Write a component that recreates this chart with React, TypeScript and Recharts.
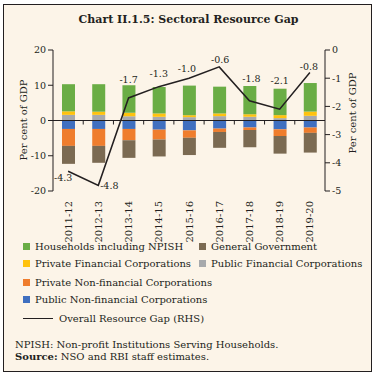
import React from 'react';
import { ComposedChart, Bar, Line, XAxis, YAxis, ReferenceLine, LabelList } from 'recharts';

const years = ['2011-12', '2012-13', '2013-14', '2014-15', '2015-16', '2016-17', '2017-18', '2018-19', '2019-20'];

// per cent of GDP
const households = [7.7, 7.8, 7.8, 7.5, 8.4, 7.6, 8.0, 7.5, 8.1];
const privateFin = [1.0, 0.9, 1.0, 0.95, 0.55, 0.76, 0.75, 0.85, 1.2];
const publicFin = [1.6, 1.6, 1.2, 1.05, 0.95, 1.24, 1.05, 0.67, 1.33];
const publicNonFin = [-2.4, -2.4, -2.4, -2.6, -2.8, -2.3, -2.0, -2.5, -2.0];
const privateNonFin = [-4.8, -4.8, -3.2, -2.8, -2.1, -0.95, -0.67, -1.9, -1.5];
const generalGovt = [-5.1, -4.8, -5.0, -4.8, -4.9, -4.5, -4.9, -5.0, -5.6];
const overallGap = [-4.3, -4.8, -1.7, -1.3, -1.0, -0.6, -1.8, -2.1, -0.8];

const leftTicks = [-20, -10, 0, 10, 20];
const rightTicks = [-5, -4, -3, -2, -1, 0];

const data = years.map((year, i) => ({
  year,
  households: households[i],
  privateFin: privateFin[i],
  publicFin: publicFin[i],
  publicNonFin: publicNonFin[i],
  privateNonFin: privateNonFin[i],
  generalGovt: generalGovt[i],
  overall: overallGap[i],
}));

const FONT = '"DejaVu Serif", serif';
const INK = '#231f20';

const colors = {
  households: '#6aad45',
  generalGovt: '#7b6a52',
  privateFin: '#ffc20e',
  publicFin: '#a7a9ac',
  privateNonFin: '#ef7d2d',
  publicNonFin: '#3f6fc0',
};

// where each data label sits relative to its point (hand placed in the original)
const labelShift: [number, number][] = [
  [-5, 10], [11, 3.5], [0, -14.5], [0, -10], [-2, -6.5], [1, -3.5], [2, -18.5], [0, -25.5], [-1, -3],
];

const XTick = (props: any) => {
  const { x, y, payload } = props;
  return (
    <g transform={`translate(${x},${y})`}>
      <text transform="rotate(-90)" textAnchor="end" dy="0.35em" dx={-2} fontSize={10} fontFamily={FONT} fill={INK}>
        {payload.value}
      </text>
    </g>
  );
};

// zero line with small ticks at category boundaries
const ZeroLine = (props: any) => {
  const { x1, y1, x2 } = props;
  const step = (x2 - x1) / years.length;
  const marks = [];
  for (let i = 1; i < years.length; i++) {
    const x = x1 + step * i;
    marks.push(<line key={i} x1={x} x2={x} y1={y1} y2={y1 + 4} stroke={INK} strokeWidth={1} />);
  }
  return (
    <g>
      <line x1={x1} x2={x2} y1={y1} y2={y1} stroke={INK} strokeWidth={1} />
      {marks}
    </g>
  );
};

const GapLabel = (props: any) => {
  const { x, y, value, index } = props;
  const [dx, dy] = labelShift[index] || [0, -8];
  return (
    <text x={x + dx} y={y + dy} textAnchor="middle" fontSize={9.5} fontFamily={FONT} fill={INK}>
      {Number(value).toFixed(1)}
    </text>
  );
};

const Swatch = ({ color }: { color: string }) => (
  <span style={{ display: 'inline-block', width: 7, height: 7, background: color, marginRight: 5, verticalAlign: 'middle', position: 'relative', top: -1 }} />
);

const legendText: React.CSSProperties = { position: 'absolute', fontFamily: FONT, fontSize: 10, color: INK, whiteSpace: 'nowrap', lineHeight: '12px' };

export default function App() {
  return (
    <div style={{ position: 'absolute', left: 0, top: 0, width: 377, height: 376, background: '#ffffff' }}>
      <div style={{ position: 'absolute', left: 3, top: 4, width: 369, height: 368, border: `1.5px solid ${INK}`, boxSizing: 'border-box', background: '#fcf4e8' }} />
      <div style={{ position: 'absolute', left: 0, top: 13, width: 377, textAlign: 'center', fontFamily: FONT, fontWeight: 'bold', fontSize: 11, color: INK }}>
        Chart II.1.5: Sectoral Resource Gap
      </div>

      <div style={{ position: 'absolute', left: 0, top: 0 }}>
        <ComposedChart width={377} height={252} data={data} stackOffset="sign" margin={{ top: 50, right: 12, bottom: 4, left: 13 }}>
          <XAxis dataKey="year" axisLine={false} tickLine={false} height={57} tick={<XTick />} interval={0} />
          <YAxis yAxisId="left" domain={[-20, 20]} ticks={leftTicks} width={40} stroke={INK} tickSize={5}
            tick={{ fontSize: 9.5, fontFamily: FONT, fill: INK }} />
          <YAxis yAxisId="right" orientation="right" domain={[-5, 0]} ticks={rightTicks} width={40} stroke={INK} tickSize={5}
            tick={{ fontSize: 9.5, fontFamily: FONT, fill: INK }} />
          <Bar yAxisId="left" dataKey="publicFin" stackId="a" fill={colors.publicFin} barSize={13} isAnimationActive={false} />
          <Bar yAxisId="left" dataKey="privateFin" stackId="a" fill={colors.privateFin} barSize={13} isAnimationActive={false} />
          <Bar yAxisId="left" dataKey="households" stackId="a" fill={colors.households} barSize={13} isAnimationActive={false} />
          <Bar yAxisId="left" dataKey="publicNonFin" stackId="a" fill={colors.publicNonFin} barSize={13} isAnimationActive={false} />
          <Bar yAxisId="left" dataKey="privateNonFin" stackId="a" fill={colors.privateNonFin} barSize={13} isAnimationActive={false} />
          <Bar yAxisId="left" dataKey="generalGovt" stackId="a" fill={colors.generalGovt} barSize={13} isAnimationActive={false} />
          <ReferenceLine yAxisId="left" y={0} shape={<ZeroLine />} />
          <Line yAxisId="right" dataKey="overall" stroke={INK} strokeWidth={1.5} dot={false} isAnimationActive={false}>
            <LabelList dataKey="overall" content={<GapLabel />} />
          </Line>
        </ComposedChart>
      </div>

      <div style={{ position: 'absolute', left: 23, top: 120, transform: 'translate(-50%, -50%) rotate(-90deg)', fontFamily: FONT, fontSize: 10, color: INK, whiteSpace: 'nowrap' }}>
        Per cent of GDP
      </div>
      <div style={{ position: 'absolute', left: 352, top: 113, transform: 'translate(-50%, -50%) rotate(-90deg)', fontFamily: FONT, fontSize: 10, color: INK, whiteSpace: 'nowrap' }}>
        Per cent of GDP
      </div>

      <div style={{ ...legendText, left: 23, top: 241 }}><Swatch color={colors.households} />Households including NPISH</div>
      <div style={{ ...legendText, left: 199, top: 241 }}><Swatch color={colors.generalGovt} />General Government</div>
      <div style={{ ...legendText, left: 23, top: 258 }}><Swatch color={colors.privateFin} />Private Financial Corporations</div>
      <div style={{ ...legendText, left: 199, top: 258 }}><Swatch color={colors.publicFin} />Public Financial Corporations</div>
      <div style={{ ...legendText, left: 23, top: 277 }}><Swatch color={colors.privateNonFin} />Private Non-financial Corporations</div>
      <div style={{ ...legendText, left: 23, top: 294 }}><Swatch color={colors.publicNonFin} />Public Non-financial Corporations</div>
      <div style={{ ...legendText, left: 23, top: 313 }}>
        <span style={{ display: 'inline-block', width: 30, height: 0, borderTop: `1.5px solid ${INK}`, marginRight: 6, verticalAlign: 'middle', position: 'relative', top: -1 }} />
        Overall Resource Gap (RHS)
      </div>

      <div style={{ ...legendText, left: 15, top: 339 }}>NPISH: Non-profit Institutions Serving Households.</div>
      <div style={{ ...legendText, left: 15, top: 351 }}><b>Source:</b> NSO and RBI staff estimates.</div>
    </div>
  );
}
